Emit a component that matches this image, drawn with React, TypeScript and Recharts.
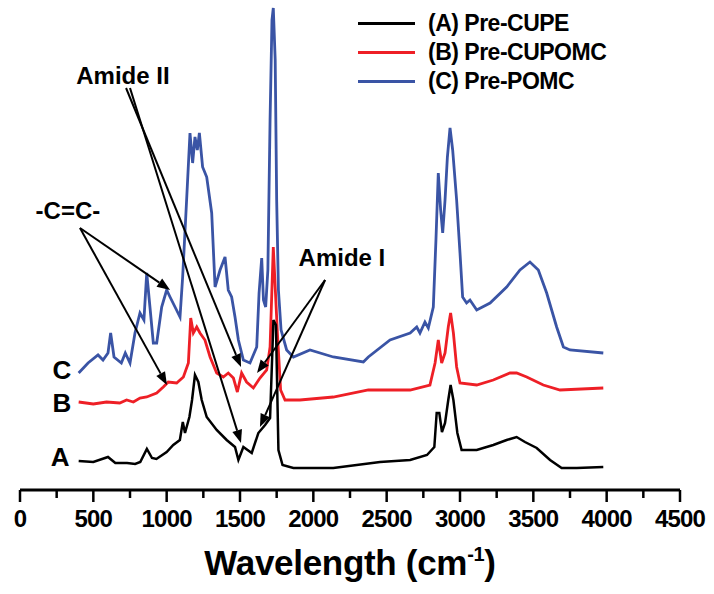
import React from 'react';
import { LineChart, Line, XAxis, YAxis, ReferenceLine, ReferenceDot } from 'recharts';

// FTIR spectra, offset vertically (arbitrary units)
const wavesA = [400, 500, 600, 650, 730, 785, 820, 865, 900, 930, 1000, 1045, 1090, 1110, 1125, 1155, 1173, 1193, 1216, 1239, 1273, 1341, 1409, 1466, 1489, 1523, 1580, 1625, 1671, 1705, 1728, 1745, 1762, 1790, 1864, 2136, 2455, 2660, 2775, 2825, 2841, 2859, 2877, 2898, 2920, 2936, 2955, 2982, 3011, 3114, 3227, 3318, 3386, 3443, 3523, 3614, 3693, 3796, 3977];
const intensA = [5.8, 5.6, 6.6, 5.4, 5.4, 5.2, 5.6, 8.2, 6.4, 6.2, 7.6, 9, 10, 13.6, 11.4, 14.6, 18, 23, 21.6, 18, 14.6, 12, 10, 8.6, 6, 8.6, 7.4, 11.4, 13, 14.4, 34, 33, 8, 5, 4.4, 4.4, 5.6, 6, 7, 8.6, 15.4, 15.4, 11.6, 13.4, 18, 21, 18, 11.4, 8, 8, 9, 10, 10.6, 9.6, 8.4, 6, 4.4, 4.4, 4.6];

const wavesB = [400, 500, 590, 680, 727, 773, 818, 864, 932, 977, 1011, 1068, 1114, 1148, 1164, 1182, 1205, 1227, 1261, 1296, 1341, 1386, 1420, 1455, 1482, 1511, 1545, 1591, 1636, 1682, 1705, 1727, 1755, 1777, 1807, 1909, 2136, 2375, 2591, 2660, 2795, 2830, 2852, 2875, 2898, 2920, 2936, 2955, 2977, 3000, 3114, 3227, 3341, 3386, 3455, 3568, 3682, 3977];
const intensB = [17.6, 17.2, 17.6, 17.4, 18, 17.6, 18.4, 18.6, 19.4, 20.6, 21.6, 21.4, 22.6, 25.4, 34.4, 31.4, 32.6, 31.4, 30, 26.6, 23.4, 22.6, 23.4, 22.4, 19.6, 23.4, 21.6, 20.4, 22.4, 24, 28.6, 48.6, 31.4, 20, 18, 18, 18.6, 20, 20, 20, 21, 25.4, 30, 25.4, 27.4, 32.6, 35.4, 31.4, 24.6, 21.4, 21, 22, 23.4, 23.4, 22.6, 21, 20, 20.4];

const wavesC = [400, 464, 532, 566, 600, 618, 641, 691, 718, 750, 784, 818, 845, 864, 886, 909, 932, 966, 1000, 1023, 1057, 1091, 1109, 1136, 1159, 1177, 1193, 1209, 1223, 1245, 1273, 1307, 1330, 1364, 1398, 1420, 1443, 1466, 1489, 1523, 1568, 1614, 1630, 1648, 1660, 1675, 1690, 1705, 1718, 1727, 1740, 1750, 1762, 1780, 1818, 1864, 1977, 2136, 2341, 2375, 2523, 2660, 2705, 2727, 2761, 2784, 2818, 2836, 2852, 2868, 2882, 2898, 2914, 2932, 2950, 2977, 3000, 3018, 3045, 3068, 3114, 3205, 3318, 3409, 3477, 3534, 3591, 3659, 3705, 3750, 3977];
const intensC = [23.4, 25.4, 27, 26, 27.4, 31.4, 26.6, 25.4, 27.4, 25.4, 31.4, 35.4, 34, 43.4, 36.6, 29.4, 29.4, 36.6, 40, 38.6, 36.6, 34.6, 42.6, 58, 71.4, 65.4, 70.6, 68, 71.4, 64.6, 62.6, 55.4, 40.6, 44, 46.6, 40, 38.6, 34.6, 30, 26, 25.4, 28.6, 39.4, 46.4, 38, 36.6, 44, 74, 94, 96.4, 86, 58, 40, 32, 28, 26.6, 28, 26.6, 25.6, 26.6, 30, 31.4, 32.6, 31.4, 33.6, 32.4, 36.6, 50, 63.4, 56, 51.4, 58, 66.6, 72.4, 68, 58, 47.4, 38.6, 37.4, 38, 36, 37.4, 40.6, 44, 45.6, 44, 39.4, 32.6, 28.6, 28, 27.4];

const xTicks = [0, 250, 500, 750, 1000, 1250, 1500, 1750, 2000, 2250, 2500, 2750, 3000, 3250, 3500, 3750, 4000, 4250, 4500];

const seriesNames = ['(A) Pre-CUPE', '(B) Pre-CUPOMC', '(C) Pre-POMC'];
const seriesColors = ['#000000', '#ee1f26', '#3a54a5'];

// annotation text: [label, wavenumber, intensity]
const notes: [string, number, number][] = [
  ['Amide II', 702, 83],
  ['-C=C-', 327, 56],
  ['Amide I', 2195, 46.6],
];
const curveTags: [string, number, number][] = [
  ['C', 286, 24],
  ['B', 286, 17.4],
  ['A', 273, 6.6],
];
// arrows: [fromX, fromY, toX, toY]
const arrows: [number, number, number, number][] = [
  [409, 52.4, 1023, 40],
  [409, 52.4, 1002, 21],
  [723, 80.4, 1507, 24.6],
  [750, 80.4, 1507, 9.4],
  [2080, 42, 1616, 23.4],
  [2080, 42, 1636, 12.6],
];

const toPoints = (w: number[], v: number[]) => w.map((x, i) => ({ x, y: v[i] }));
const dataA = toPoints(wavesA, intensA);
const dataB = toPoints(wavesB, intensB);
const dataC = toPoints(wavesC, intensC);

const FONT = '"Liberation Sans", Arial, sans-serif';
const TICK_SIZE = 11;
const TICK_MARGIN = 4;

// draws its own tick mark: long for labelled ticks, short for minor ones
const XTick = ({ x, y, payload }: any) => {
  const axisY = y - TICK_SIZE - TICK_MARGIN;
  const major = payload.value % 500 === 0;
  return (
    <g>
      <line x1={x} y1={axisY} x2={x} y2={axisY + (major ? 12 : 8)} stroke="#000" strokeWidth={2.5} />
      {major && (
        <text x={x} y={y} dy={22} textAnchor="middle" fontSize={24} fontWeight="bold" fontFamily={FONT} fill="#000" letterSpacing={-0.8}>
          {payload.value}
        </text>
      )}
    </g>
  );
};

const AxisTitle = ({ viewBox }: any) => {
  const cx = viewBox.x + viewBox.width / 2;
  return (
    <text x={cx} y={viewBox.y + 85} textAnchor="middle" fontSize={35} fontWeight="bold" fontFamily={FONT} fill="#000" letterSpacing={-0.3}>
      Wavelength (cm
      <tspan dy={-14} fontSize={20}>-1</tspan>
      <tspan dy={14}>)</tspan>
    </text>
  );
};

const Arrow = (props: any) => {
  const { x1, y1, x2, y2 } = props;
  const ang = Math.atan2(y2 - y1, x2 - x1);
  const len = 13;
  const half = 5;
  const bx = x2 - len * Math.cos(ang);
  const by = y2 - len * Math.sin(ang);
  const px = -Math.sin(ang) * half;
  const py = Math.cos(ang) * half;
  return (
    <g>
      <line x1={x1} y1={y1} x2={bx} y2={by} stroke="#000" strokeWidth={2} />
      <polygon points={`${x2},${y2} ${bx + px},${by + py} ${bx - px},${by - py}`} fill="#000" />
    </g>
  );
};

const textShape = (label: string, size: number) => (p: any) => (
  <text x={p.cx} y={p.cy} dy={size * 0.36} textAnchor="middle" fontSize={size} fontWeight="bold" fontFamily={FONT} fill="#000">
    {label}
  </text>
);

export default function App() {
  return (
    <div style={{ position: 'relative', width: 714, height: 594, background: '#fff' }}>
      <style>{'body{margin:0}'}</style>
      <LineChart width={714} height={594} margin={{ top: 5, right: 34, left: 20, bottom: 24 }}>
        <XAxis
          type="number"
          dataKey="x"
          domain={[0, 4500]}
          ticks={xTicks}
          interval={0}
          tick={<XTick />}
          tickSize={TICK_SIZE}
          tickMargin={TICK_MARGIN}
          tickLine={false}
          height={80}
          stroke="#000"
          strokeWidth={3}
          label={<AxisTitle />}
        />
        <YAxis type="number" domain={[0, 97]} hide />
        <Line data={dataC} dataKey="y" name={seriesNames[2]} stroke={seriesColors[2]} strokeWidth={2.8} dot={false} isAnimationActive={false} />
        <Line data={dataB} dataKey="y" name={seriesNames[1]} stroke={seriesColors[1]} strokeWidth={2.8} dot={false} isAnimationActive={false} />
        <Line data={dataA} dataKey="y" name={seriesNames[0]} stroke={seriesColors[0]} strokeWidth={2.5} dot={false} isAnimationActive={false} />
        {arrows.map((a, i) => (
          <ReferenceLine
            key={`arrow-${i}`}
            segment={[{ x: a[0], y: a[1] }, { x: a[2], y: a[3] }]}
            shape={<Arrow />}
            ifOverflow="visible"
          />
        ))}
        {notes.map((n) => (
          <ReferenceDot key={n[0]} x={n[1]} y={n[2]} r={0} shape={textShape(n[0], 24)} ifOverflow="visible" />
        ))}
        {curveTags.map((n) => (
          <ReferenceDot key={n[0]} x={n[1]} y={n[2]} r={0} shape={textShape(n[0], 26)} ifOverflow="visible" />
        ))}
      </LineChart>
      <div style={{ position: 'absolute', left: 358, top: 9, fontFamily: FONT, fontWeight: 'bold', fontSize: 23 }}>
        {seriesNames.map((name, i) => (
          <div key={name} style={{ display: 'flex', alignItems: 'center', height: 29 }}>
            <span style={{ display: 'inline-block', width: 57, height: 3, background: seriesColors[i], marginRight: 13 }} />
            <span style={{ letterSpacing: -0.5 }}>{name}</span>
          </div>
        ))}
      </div>
    </div>
  );
}
